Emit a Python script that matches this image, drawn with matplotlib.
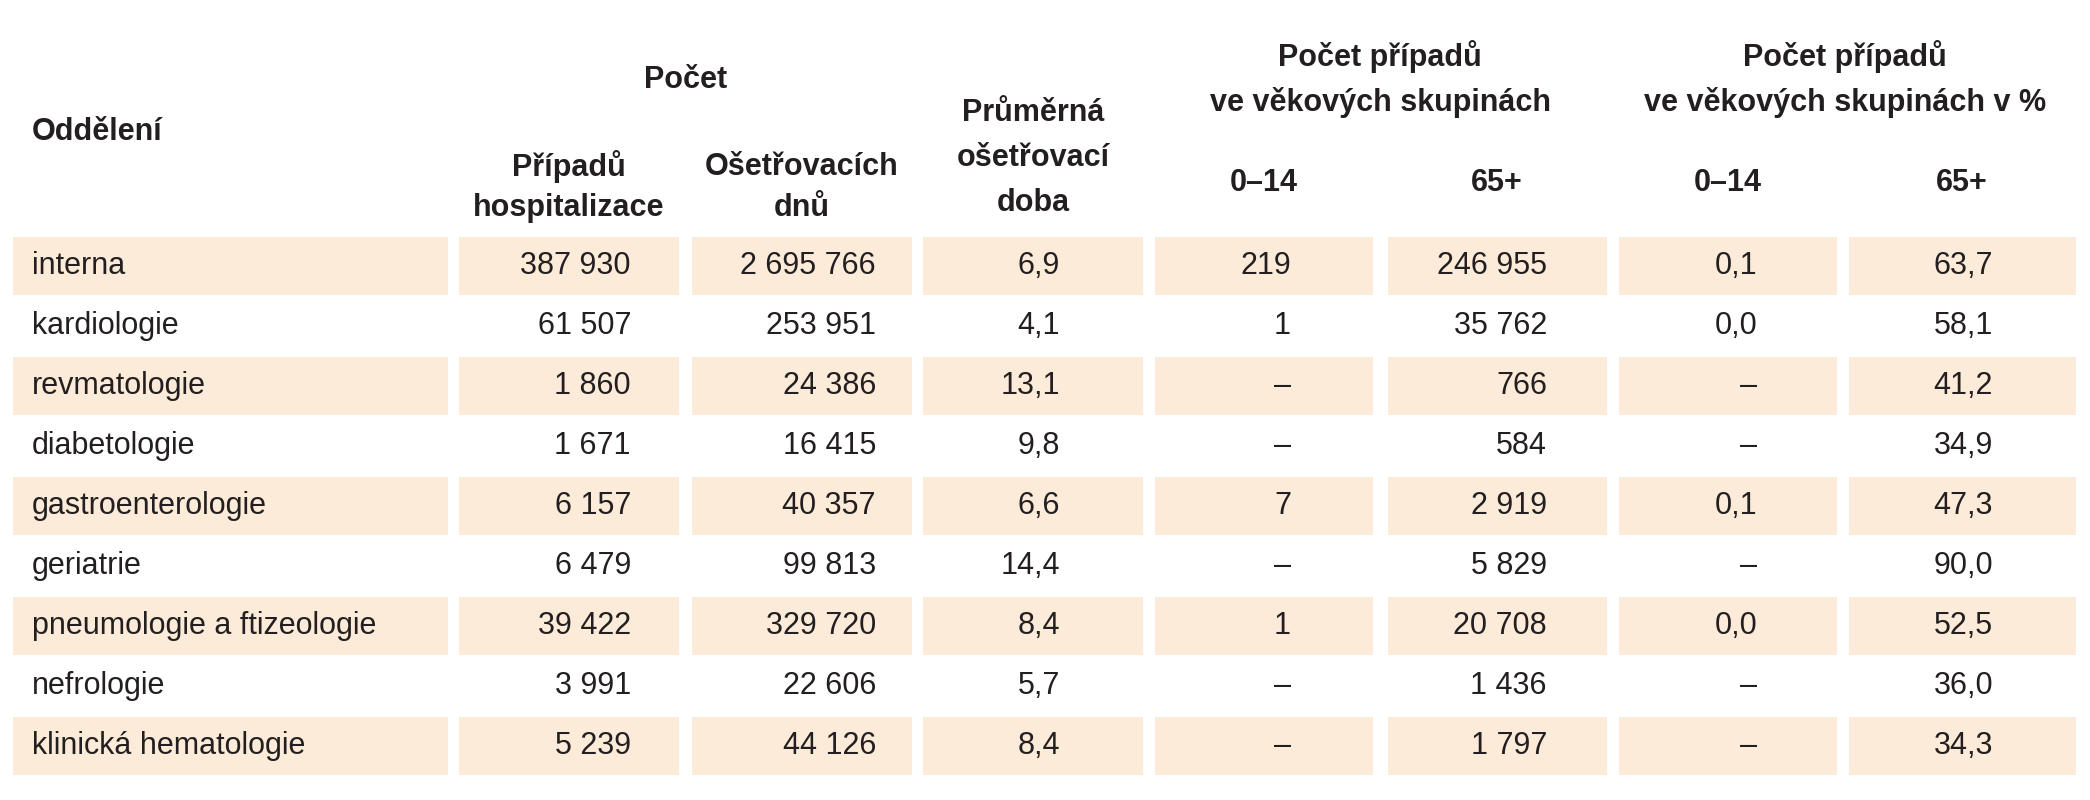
import matplotlib
matplotlib.use("Agg")
import matplotlib.pyplot as plt
from matplotlib.patches import Rectangle

departments = ["interna", "kardiologie", "revmatologie", "diabetologie", "gastroenterologie",
               "geriatrie", "pneumologie a ftizeologie", "nefrologie", "klinická hematologie"]
cases = ["387 930", "61 507", "1 860", "1 671", "6 157", "6 479", "39 422", "3 991", "5 239"]
days = ["2 695 766", "253 951", "24 386", "16 415", "40 357", "99 813", "329 720", "22 606", "44 126"]
avg_days = ["6,9", "4,1", "13,1", "9,8", "6,6", "14,4", "8,4", "5,7", "8,4"]
n_0_14 = ["219", "1", "–", "–", "7", "–", "1", "–", "–"]
n_65 = ["246 955", "35 762", "766", "584", "2 919", "5 829", "20 708", "1 436", "1 797"]
pct_0_14 = ["0,1", "0,0", "–", "–", "0,1", "–", "0,0", "–", "–"]
pct_65 = ["63,7", "58,1", "41,2", "34,9", "47,3", "90,0", "52,5", "36,0", "34,3"]

FONT = ["Liberation Sans Narrow", "Liberation Sans", "DejaVu Sans"]
TC = "#231f20"
SHADE = "#fdebd9"
FS = 22

fig = plt.figure(figsize=(20.9, 8), dpi=100)
ax = fig.add_axes([0, 0, 1, 1])
ax.set_xlim(0, 2090)
ax.set_ylim(800, 0)
ax.axis("off")

boxes = [(13, 448), (459, 679), (692, 912), (923, 1143), (1155, 1373),
         (1388, 1607), (1619, 1837), (1849, 2076)]
rights = [None, 631, 876, 1060, 1291, 1547, 1757, 1993]
top0, pitch, h = 237, 60, 58

cols = [cases, days, avg_days, n_0_14, n_65, pct_0_14, pct_65]

def T(x, y, s, ha="center", **kw):
    ax.text(x, y, s, ha=ha, va="center", fontsize=FS, color=TC, family=FONT, **kw)

for i, dep in enumerate(departments):
    y0 = top0 + i * pitch
    yc = y0 + h / 2
    if i % 2 == 0:
        for (a, b) in boxes:
            ax.add_patch(Rectangle((a, y0), b - a, h, color=SHADE, lw=0))
    T(32, yc, dep, ha="left")
    for j, col in enumerate(cols):
        T(rights[j + 1], yc, col[i], ha="right")

# headers
T(32, 132, "Oddělení", ha="left", fontweight="bold")
T(686, 80, "Počet", fontweight="bold")
T(569, 167, "Případů", fontweight="bold")
T(569, 208, "hospitalizace", fontweight="bold")
T(802, 167, "Ošetřovacích", fontweight="bold")
T(802, 208, "dnů", fontweight="bold")
T(1033, 113, "Průměrná", fontweight="bold")
T(1033, 158, "ošetřovací", fontweight="bold")
T(1033, 203, "doba", fontweight="bold")
T(1380, 57, "Počet případů", fontweight="bold")
T(1380, 102, "ve věkových skupinách", fontweight="bold")
T(1845, 57, "Počet případů", fontweight="bold")
T(1845, 102, "ve věkových skupinách v %", fontweight="bold")
T(1264, 183, "0–14", fontweight="bold")
T(1497, 183, "65+", fontweight="bold")
T(1728, 183, "0–14", fontweight="bold")
T(1962, 183, "65+", fontweight="bold")

fig.savefig("out.png", dpi=100)
